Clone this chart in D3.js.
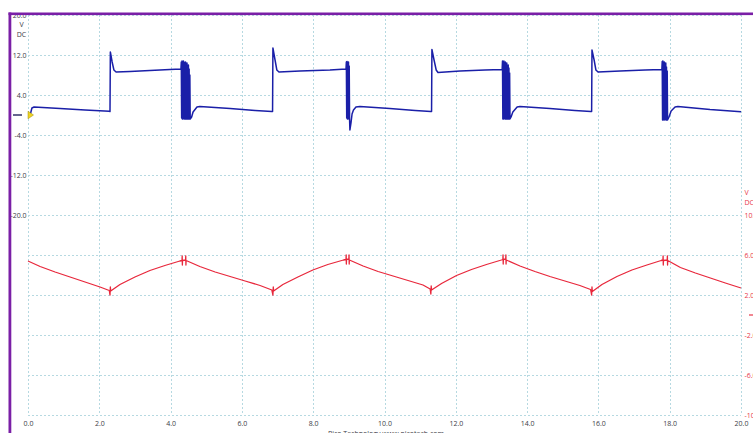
<!DOCTYPE html>
<html>
<head>
<meta charset="utf-8">
<script src="https://cdn.jsdelivr.net/npm/d3@7"></script>
<style>
  html, body { margin: 0; padding: 0; background: #fff; }
  svg { display: block; }
  text { font-family: "Open Sans", "Liberation Sans", sans-serif; }
</style>
</head>
<body>
<svg id="scope" width="753" height="433"></svg>
<script>
// Time axis (ms) and the two channel ranges (V)
const timeTicks = [0, 2, 4, 6, 8, 10, 12, 14, 16, 18, 20];
const chAGrid = [20, 12, 4, -4, -12, -20, -28, -36, -44, -52, -60];
const chALabels = [20, 12, 4, -4, -12, -20];
const chBLabels = [10, 6, 2, -2, -6, -10];

// Channel A (blue): [time ms, volts]
const channelA = [
  [0.00,0.0],[0.06,0.0],[0.11,1.4],[0.17,1.6],[0.90,1.3],[1.60,1.0],[2.28,0.75],
  [2.30,0.7],[2.31,12.6],[2.36,10.6],[2.41,9.0],[2.47,8.6],[2.86,8.7],[3.42,8.9],[3.98,9.1],[4.29,9.2],
  [4.30,10.6],[4.31,-0.6],[4.32,10.8],[4.33,-0.8],[4.34,10.4],[4.35,-0.8],[4.36,10.8],[4.37,-0.7],
  [4.38,10.6],[4.39,-0.8],[4.40,10.2],[4.41,-0.8],[4.42,10.6],[4.43,-0.8],[4.44,10.0],[4.45,-0.8],
  [4.46,10.4],[4.47,-0.8],[4.48,9.8],[4.49,-0.8],[4.50,10.0],[4.51,-0.8],[4.52,9.2],[4.53,-0.8],
  [4.54,8.0],[4.55,-0.8],
  [4.59,-0.4],[4.63,0.6],[4.74,1.6],[4.82,1.7],[5.67,1.3],[6.37,0.9],[6.84,0.7],
  [6.86,0.7],[6.87,13.4],[6.93,11.0],[6.98,9.0],[7.04,8.6],[7.63,8.8],[8.47,9.0],[8.92,9.2],
  [8.93,10.6],[8.94,-0.6],[8.95,10.7],[8.96,-0.8],[8.97,10.4],[8.98,-0.8],[8.99,10.6],[9.00,-0.6],
  [9.01,9.8],[9.02,-0.8],[9.03,-3.0],
  [9.06,-1.6],[9.09,0.2],[9.13,1.0],[9.20,1.6],[9.31,1.7],[10.15,1.3],[10.86,0.9],[11.30,0.7],
  [11.32,0.7],[11.33,13.1],[11.39,11.0],[11.45,9.0],[11.50,8.5],[12.12,8.8],[12.82,9.0],[13.30,9.1],
  [13.31,10.8],[13.32,-0.8],[13.33,10.6],[13.34,-0.8],[13.35,10.8],[13.36,-0.7],[13.37,10.4],[13.38,-0.8],
  [13.39,10.6],[13.40,-0.8],[13.41,10.2],[13.42,-0.8],[13.43,10.4],[13.44,-0.8],[13.45,9.8],[13.46,-0.8],
  [13.47,10.0],[13.48,-0.8],[13.49,9.4],[13.50,-0.8],[13.51,8.4],[13.52,-0.8],
  [13.55,-0.4],[13.60,0.6],[13.72,1.6],[13.80,1.7],[14.64,1.3],[15.34,0.9],[15.79,0.7],
  [15.81,0.7],[15.82,13.0],[15.88,11.0],[15.93,9.0],[15.99,8.6],[16.61,8.8],[17.31,9.0],[17.78,9.1],
  [17.79,10.7],[17.80,-1.0],[17.81,10.8],[17.82,-1.0],[17.83,10.4],[17.84,-0.8],[17.85,10.6],[17.86,-1.0],
  [17.87,10.2],[17.88,-0.8],[17.89,10.4],[17.90,-1.0],[17.91,9.6],[17.92,-1.0],[17.93,8.8],[17.94,-1.0],
  [17.98,-0.4],[18.04,0.8],[18.15,1.6],[18.23,1.7],[19.13,1.1],[20.00,0.67]
];

// Channel B (red): [time ms, volts]
const channelB = [
  [0.00,5.4],[0.34,4.85],[0.76,4.3],[1.18,3.8],[1.60,3.3],[2.02,2.8],[2.28,2.45],
  [2.30,2.0],[2.31,2.8],[2.32,2.4],
  [2.58,3.05],[3.00,3.8],[3.42,4.45],[3.84,4.95],[4.26,5.4],
  [4.32,5.45],[4.325,5.9],[4.33,5.0],[4.335,5.45],[4.42,5.5],[4.425,5.9],[4.43,5.0],[4.435,5.45],
  [4.82,4.85],[5.25,4.3],[5.67,3.85],[6.09,3.4],[6.51,2.95],[6.84,2.5],
  [6.87,2.0],[6.88,2.8],[6.89,2.4],
  [7.15,3.05],[7.57,3.8],[7.99,4.5],[8.41,5.05],[8.85,5.5],
  [8.92,5.55],[8.925,6.0],[8.93,5.1],[8.935,5.55],[9.00,5.6],[9.005,6.0],[9.01,5.1],[9.015,5.5],
  [9.40,4.9],[9.82,4.35],[10.24,3.9],[10.66,3.45],[11.08,3.0],[11.28,2.6],
  [11.30,2.1],[11.31,2.9],[11.32,2.5],
  [11.60,3.15],[12.02,3.95],[12.44,4.55],[12.86,5.05],[13.28,5.5],
  [13.32,5.55],[13.325,6.0],[13.33,5.1],[13.335,5.55],[13.40,5.6],[13.405,6.0],[13.41,5.1],[13.415,5.5],
  [13.80,4.9],[14.22,4.35],[14.64,3.85],[15.06,3.4],[15.48,2.95],[15.78,2.55],
  [15.81,2.0],[15.82,2.8],[15.83,2.35],
  [16.10,3.05],[16.52,3.85],[16.94,4.5],[17.36,5.0],[17.76,5.45],
  [17.81,5.5],[17.815,5.9],[17.82,5.0],[17.825,5.45],[17.93,5.5],[17.935,5.9],[17.94,5.0],[17.945,5.45],
  [18.30,4.75],[18.72,4.2],[19.14,3.7],[19.56,3.2],[20.00,2.7]
];

const svg = d3.select("#scope");
const W = 753, H = 433;
const plot = { left: 28, right: 741, top: 15, bottom: 415 };

const x = d3.scaleLinear().domain([0, 20]).range([plot.left, plot.right]);
const yA = d3.scaleLinear().domain([-60, 20]).range([plot.bottom, plot.top]);
const yB = d3.scaleLinear().domain([-10, 30]).range([plot.bottom, plot.top]);
// one decimal place, plain hyphen for negatives
const fmt = d => d3.format(".1f")(d).replace("\u2212", "-");
const labelColor = "#3c3c46";
const chBColor = "#e8384a";
const fontSize = 7;

svg.append("rect").attr("width", W).attr("height", H).attr("fill", "#fff");

const defs = svg.append("defs");
defs.append("clipPath").attr("id", "plotClip")
  .append("rect").attr("x", plot.left - 2).attr("y", plot.top)
  .attr("width", plot.right - plot.left + 4).attr("height", plot.bottom - plot.top);

// Dotted graticule
const grid = svg.append("g").attr("stroke", "#b6d9e1").attr("stroke-width", 1)
  .attr("stroke-dasharray", "2,2").attr("fill", "none");
grid.selectAll("line.h").data(chAGrid).join("line")
  .attr("class", "h")
  .attr("x1", plot.left).attr("x2", plot.right)
  .attr("y1", d => Math.round(yA(d)) + 0.5).attr("y2", d => Math.round(yA(d)) + 0.5);
grid.selectAll("line.v").data(timeTicks).join("line")
  .attr("class", "v")
  .attr("y1", plot.top).attr("y2", plot.bottom)
  .attr("x1", d => Math.round(x(d)) + 0.5).attr("x2", d => Math.round(x(d)) + 0.5);

// Channel A axis (left)
const leftAxis = svg.append("g")
  .attr("transform", `translate(${plot.left - 1.5},0)`)
  .call(d3.axisLeft(yA).tickValues(chALabels).tickFormat(fmt).tickSize(0).tickPadding(0));
leftAxis.select(".domain").remove();
leftAxis.selectAll("text").attr("font-size", fontSize).attr("fill", labelColor)
  .attr("font-family", "'Open Sans', sans-serif");

svg.append("text").attr("x", 21.5).attr("y", 27).attr("text-anchor", "middle")
  .attr("font-size", fontSize).attr("fill", labelColor).text("V");
svg.append("text").attr("x", 21.5).attr("y", 37).attr("text-anchor", "middle")
  .attr("font-size", fontSize).attr("fill", labelColor).text("DC");

// Channel B axis (right)
const rightAxis = svg.append("g")
  .attr("transform", `translate(${plot.right + 3.5},0)`)
  .call(d3.axisRight(yB).tickValues(chBLabels).tickFormat(fmt).tickSize(0).tickPadding(0));
rightAxis.select(".domain").remove();
rightAxis.selectAll("text").attr("font-size", fontSize).attr("fill", chBColor)
  .attr("font-family", "'Open Sans', sans-serif");
svg.append("text").attr("x", plot.right + 3.5).attr("y", 195).attr("font-size", fontSize)
  .attr("fill", chBColor).text("V");
svg.append("text").attr("x", plot.right + 3.5).attr("y", 205).attr("font-size", fontSize)
  .attr("fill", chBColor).text("DC");

// Time axis (bottom)
const bottomAxis = svg.append("g")
  .attr("transform", `translate(0,${plot.bottom + 6})`)
  .call(d3.axisBottom(x).tickValues(timeTicks).tickFormat(fmt).tickSize(0).tickPadding(0));
bottomAxis.select(".domain").remove();
bottomAxis.selectAll("text").attr("font-size", fontSize).attr("fill", labelColor)
  .attr("font-family", "'Open Sans', sans-serif");

svg.append("text").attr("x", 30).attr("y", 437).attr("font-size", fontSize)
  .attr("fill", labelColor).text("ms");
svg.append("text").attr("x", 386).attr("y", 435.5).attr("text-anchor", "middle")
  .attr("font-size", fontSize).attr("fill", labelColor).text("Pico Technology  www.picotech.com");

// Traces
const traces = svg.append("g").attr("clip-path", "url(#plotClip)");
const lineA = d3.line().x(d => x(d[0])).y(d => yA(d[1]));
const lineB = d3.line().x(d => x(d[0])).y(d => yB(d[1]));

traces.append("path").datum(channelB).attr("d", lineB)
  .attr("fill", "none").attr("stroke", "#e8283c").attr("stroke-width", 1.3)
  .attr("stroke-linejoin", "round");
traces.append("path").datum(channelA).attr("d", lineA)
  .attr("fill", "none").attr("stroke", "#1a1fa8").attr("stroke-width", 1.5)
  .attr("stroke-linejoin", "round");

// Channel zero markers
svg.append("line").attr("x1", 13).attr("x2", 22).attr("y1", yA(0)).attr("y2", yA(0))
  .attr("stroke", "#23235e").attr("stroke-width", 1.4);
svg.append("line").attr("x1", 749).attr("x2", W).attr("y1", yB(0)).attr("y2", yB(0))
  .attr("stroke", chBColor).attr("stroke-width", 1.2);

// Trigger marker
const ty = yA(0);
svg.append("path")
  .attr("d", `M${plot.left},${ty - 3.8} L${plot.left + 5.5},${ty} L${plot.left},${ty + 3.8} Z`)
  .attr("fill", "#f0d422").attr("stroke", "#9a8a10").attr("stroke-width", 0.5);

// Window frame (hides the upper half of the top label)
svg.append("rect").attr("x", 0).attr("y", 0).attr("width", W).attr("height", 12.5).attr("fill", "#fff");
svg.append("rect").attr("x", 8.5).attr("y", 12.5).attr("width", W - 8.5).attr("height", 2.6).attr("fill", "#7a1fa6");
svg.append("rect").attr("x", 8.5).attr("y", 12.5).attr("width", 2.8).attr("height", H).attr("fill", "#7a1fa6");
</script>
</body>
</html>
